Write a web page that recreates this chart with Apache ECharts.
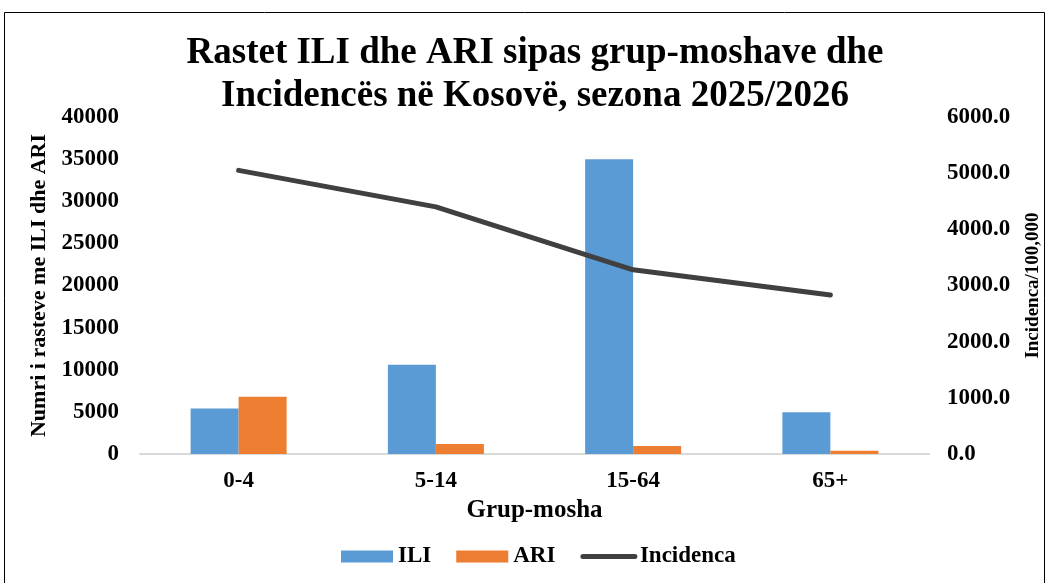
<!DOCTYPE html>
<html><head><meta charset="utf-8">
<script src="https://cdn.jsdelivr.net/npm/echarts@6/dist/echarts.min.js"></script>
<style>html,body{margin:0;padding:0;background:#fff}#c{width:1048px;height:583px}</style>
</head><body><div id="c"></div>
<script>
const categories = ['0-4', '5-14', '15-64', '65+'];
const iliValues = [5400, 10600, 35000, 4950];
const ariValues = [6800, 1200, 950, 400];
const incidenceValues = [5050, 4400, 3280, 2830];
const leftTicks = [0, 40000, 5000];
const rightTicks = [0, 6000, 1000];

const F = 'Liberation Serif, Times New Roman, serif';
const chart = echarts.init(document.getElementById('c'));
chart.setOption({
  backgroundColor: '#fff',
  animation: false,
  graphic: [{type: 'rect', shape: {x: 4.5, y: 12.5, width: 1040, height: 580}, style: {fill: 'none', stroke: '#000', lineWidth: 1}}],
  title: {
    text: 'Rastet ILI dhe ARI sipas grup-moshave dhe\nIncidencës në Kosovë, sezona 2025/2026',
    left: 530, textAlign: 'center', top: 27,
    textStyle: {fontFamily: F, fontWeight: 'bold', fontSize: 37, lineHeight: 43, color: '#000'}
  },
  legend: {
    top: 540, left: 336, itemGap: 25, itemWidth: 52, itemHeight: 12,
    textStyle: {fontFamily: F, fontWeight: 'bold', fontSize: 23, color: '#000'},
    data: [{name: 'ILI', icon: 'rect'}, {name: 'ARI', icon: 'rect'},
           {name: 'Incidenca', itemStyle: {opacity: 0}, lineStyle: {width: 5, cap: 'round', color: '#404040'}}]
  },
  grid: {left: 140, right: 119, top: 117, bottom: 129, containLabel: false, outerBoundsMode: 'none'},
  xAxis: {
    type: 'category', data: categories,
    name: 'Grup-mosha', nameLocation: 'middle', nameGap: 42,
    nameTextStyle: {fontFamily: F, fontWeight: 'bold', fontSize: 25, color: '#000'},
    axisLine: {lineStyle: {color: '#d9d9d9', width: 2}},
    axisTick: {show: false},
    axisLabel: {fontFamily: F, fontWeight: 'bold', fontSize: 23, color: '#000', margin: 16}
  },
  yAxis: [{
    type: 'value', min: leftTicks[0], max: leftTicks[1], interval: leftTicks[2],
    name: 'Numri i rasteve me ILI dhe ARI', nameLocation: 'middle', nameGap: 86, nameRotate: 90,
    nameTextStyle: {fontFamily: F, fontWeight: 'bold', fontSize: 22, color: '#000'},
    splitLine: {show: false}, axisLine: {show: false}, axisTick: {show: false},
    axisLabel: {fontFamily: F, fontWeight: 'bold', fontSize: 23, color: '#000', margin: 21,
      formatter: v => String(v)}
  }, {
    type: 'value', min: rightTicks[0], max: rightTicks[1], interval: rightTicks[2],
    name: 'Incidenca/100,000', nameLocation: 'middle', nameGap: 95, nameRotate: 90,
    nameTextStyle: {fontFamily: F, fontWeight: 'bold', fontSize: 19, color: '#000'},
    splitLine: {show: false}, axisLine: {show: false}, axisTick: {show: false},
    axisLabel: {fontFamily: F, fontWeight: 'bold', fontSize: 23, color: '#000', margin: 18,
      formatter: v => v.toFixed(1)}
  }],
  series: [
    {name: 'ILI', type: 'bar', data: iliValues, barWidth: 48, barGap: '0%', itemStyle: {color: '#5B9BD5'}},
    {name: 'ARI', type: 'bar', data: ariValues, barWidth: 48, barGap: '0%', itemStyle: {color: '#ED7D31'}},
    {name: 'Incidenca', type: 'line', yAxisIndex: 1, data: incidenceValues, symbol: 'none',
      lineStyle: {color: '#404040', width: 5, cap: 'round'}, itemStyle: {color: '#404040'}}
  ]
});
</script></body></html>
